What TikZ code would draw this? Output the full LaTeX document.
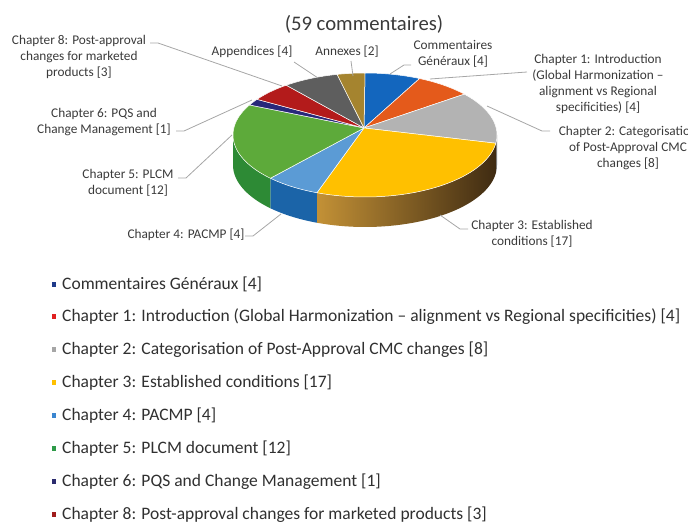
\documentclass[tikz,border=0pt]{standalone}
\usepackage{fontspec}
\setmainfont{Carlito}
\begin{document}
\begin{tikzpicture}[x=1pt,y=-1pt]
\useasboundingbox (0,0) rectangle (688,524);
\definecolor{txt}{HTML}{3A3A3A}
\definecolor{legtxt}{HTML}{303030}
\definecolor{leadc}{HTML}{A6A6A6}
\definecolor{cCG}{HTML}{1366BE}
\definecolor{cA}{HTML}{E45A1B}
\definecolor{cB}{HTML}{B3B3B3}
\definecolor{cC}{HTML}{FFC000}
\definecolor{cD}{HTML}{5B9BD5}
\definecolor{cE}{HTML}{5DAA3A}
\definecolor{cF}{HTML}{28287A}
\definecolor{cH}{HTML}{B31B1B}
\definecolor{cApp}{HTML}{5E5E5E}
\definecolor{cAnn}{HTML}{A5842F}
\definecolor{sB}{HTML}{7F7F7F}
\definecolor{sCl}{HTML}{C39136}
\definecolor{sCr}{HTML}{3F2B12}
\definecolor{sD}{HTML}{1B64A8}
\definecolor{sE}{HTML}{2D8A35}
\definecolor{mCG}{HTML}{1F3A8A}
\definecolor{mA}{HTML}{E02020}
\definecolor{mB}{HTML}{A6A6A6}
\definecolor{mC}{HTML}{FFC000}
\definecolor{mD}{HTML}{3A86D0}
\definecolor{mE}{HTML}{2E9A48}
\definecolor{mF}{HTML}{2B2B6E}
\definecolor{mH}{HTML}{A01C1C}
\tikzset{
  lbl/.style={font=\fontsize{13.3}{15.7}\selectfont, text=txt, align=center, inner sep=0pt},
  leg/.style={font=\fontsize{17.5}{20}\selectfont, text=legtxt, anchor=west, inner sep=0pt},
  leader/.style={draw=leadc, line width=0.8pt},
  legsq/.style={minimum width=4.5pt, minimum height=5pt, inner sep=0pt, draw=none},
  slicetop/.style={draw=white, line width=0.5pt, line join=round}
}
\def\pcx{365}\def\pcy{135}\def\pra{132}\def\prb{62}\def\pdep{30}
\coordinate (apex) at (364,128);
\newcommand\topslice[3]{\filldraw[slicetop, fill=#3] (apex) -- plot[domain=#1:#2, samples=40] ({\pcx+\pra*cos(\x)},{\pcy-\prb*sin(\x)}) -- cycle;}
\newcommand\sideseg[3]{\path[#3] plot[domain=#1:#2, samples=40] ({\pcx+\pra*cos(\x)},{\pcy-\prb*sin(\x)}) -- plot[domain=#1:#2, samples=40] ({\pcx+\pra*cos(#1+#2-\x)},{\pcy+\pdep-\prb*sin(#1+#2-\x)}) -- cycle;}
% sides
\sideseg{-7.627}{0}{fill=sB}
\sideseg{-111.356}{-7.627}{left color=sCl, right color=sCr}
\sideseg{-135.763}{-111.356}{fill=sD}
\sideseg{-180}{-135.763}{fill=sE}
% tops
\topslice{65.593}{90}{cCG}
\topslice{41.186}{65.593}{cA}
\topslice{-7.627}{41.186}{cB}
\topslice{-111.356}{-7.627}{cC}
\topslice{-135.763}{-111.356}{cD}
\topslice{-208.983}{-135.763}{cE}
\topslice{-215.085}{-208.983}{cF}
\topslice{-233.390}{-215.085}{cH}
\topslice{-257.797}{-233.390}{cApp}
\topslice{-270}{-257.797}{cAnn}
% title
\node[font=\fontsize{20.7}{24}\selectfont, text=txt, inner sep=0pt] (title) at (364,24) {(59 commentaires)};
% labels
\node[lbl] (l8) at (79,57) {Chapter 8: Post-approval\\changes for marketed\\products [3]};
\node[lbl] (l6) at (104,122) {Chapter 6: PQS and\\Change Management [1]};
\node[lbl] (l5) at (128,183) {Chapter 5: PLCM\\document [12]};
\node[lbl] (l4) at (186,235) {Chapter 4: PACMP [4]};
\node[lbl] (lapp) at (252,52) {Appendices [4]};
\node[lbl] (lann) at (347,52) {Annexes [2]};
\node[lbl] (lcg) at (453,54) {Commentaires\\Généraux [4]};
\node[lbl] (l1) at (598,84) {Chapter 1: Introduction\\(Global Harmonization --\\alignment vs Regional\\specificities) [4]};
\node[lbl] (l2) at (628,148) {Chapter 2: Categorisation\\of Post-Approval CMC\\changes [8]};
\node[lbl] (l3) at (532,234) {Chapter 3: Established\\conditions [17]};
% leader end points
\coordinate (e8a) at (150,43);  \coordinate (e8b) at (158,43);  \coordinate (e8c) at (282,86);
\coordinate (e6a) at (176,131); \coordinate (e6b) at (184,131); \coordinate (e6c) at (252,100);
\coordinate (e5a) at (178,178); \coordinate (e5b) at (186,178); \coordinate (e5c) at (232,135);
\coordinate (e4a) at (245,236); \coordinate (e4b) at (253,236); \coordinate (e4c) at (281,214);
\coordinate (eappa) at (294,62); \coordinate (eappb) at (318,78);
\coordinate (eanna) at (351,61); \coordinate (eannb) at (353,76);
\coordinate (ecga) at (411,65); \coordinate (ecgb) at (404,65); \coordinate (ecgc) at (390,74);
\coordinate (e1a) at (527,72); \coordinate (e1b) at (430,79);
\coordinate (e2a) at (550,131); \coordinate (e2b) at (542,131); \coordinate (e2c) at (487,106);
\coordinate (e3a) at (468,229); \coordinate (e3b) at (460,229); \coordinate (e3c) at (440,215);
\draw[leader] (e8a) -- (e8b) -- (e8c);
\draw[leader] (e6a) -- (e6b) -- (e6c);
\draw[leader] (e5a) -- (e5b) -- (e5c);
\draw[leader] (e4a) -- (e4b) -- (e4c);
\draw[leader] (eappa) -- (eappb);
\draw[leader] (eanna) -- (eannb);
\draw[leader] (ecga) -- (ecgb) -- (ecgc);
\draw[leader] (e1a) -- (e1b);
\draw[leader] (e2a) -- (e2b) -- (e2c);
\draw[leader] (e3a) -- (e3b) -- (e3c);
% legend
\node[legsq, fill=mCG] (q1) at (54,284) {};
\node[leg] (t1) at (62,284) {Commentaires Généraux [4]};
\node[legsq, fill=mA] (q2) at (54,316.9) {};
\node[leg] (t2) at (62,316.9) {Chapter 1: Introduction (Global Harmonization -- alignment vs Regional specificities) [4]};
\node[legsq, fill=mB] (q3) at (54,349.8) {};
\node[leg] (t3) at (62,349.8) {Chapter 2: Categorisation of Post-Approval CMC changes [8]};
\node[legsq, fill=mC] (q4) at (54,382.7) {};
\node[leg] (t4) at (62,382.7) {Chapter 3: Established conditions [17]};
\node[legsq, fill=mD] (q5) at (54,415.6) {};
\node[leg] (t5) at (62,415.6) {Chapter 4: PACMP [4]};
\node[legsq, fill=mE] (q6) at (54,448.5) {};
\node[leg] (t6) at (62,448.5) {Chapter 5: PLCM document [12]};
\node[legsq, fill=mF] (q7) at (54,481.4) {};
\node[leg] (t7) at (62,481.4) {Chapter 6: PQS and Change Management [1]};
\node[legsq, fill=mH] (q8) at (54,514.3) {};
\node[leg] (t8) at (62,514.3) {Chapter 8: Post-approval changes for marketed products [3]};
\end{tikzpicture}
\end{document}
